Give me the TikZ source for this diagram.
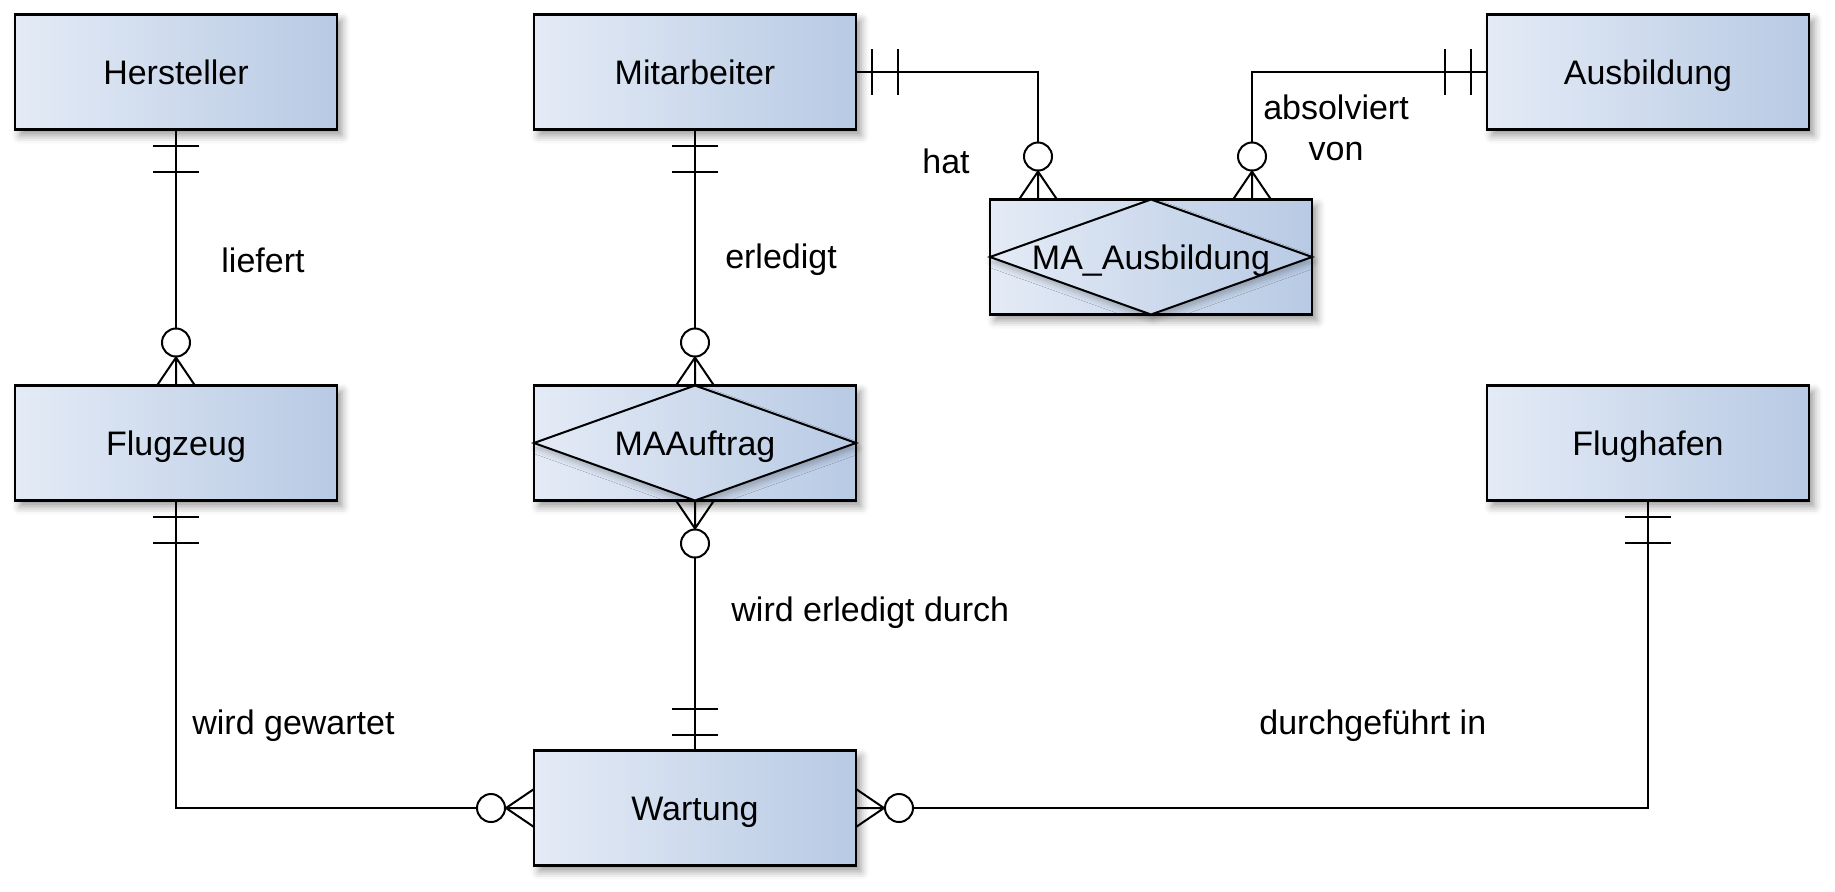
\documentclass[tikz,border=0pt]{standalone}
\usepackage{fontspec}
\setmainfont{Liberation Sans}
\usetikzlibrary{calc,shadows.blur}
\definecolor{boxL}{RGB}{228,235,246}
\definecolor{boxR}{RGB}{184,202,228}
\begin{document}
\begin{tikzpicture}[x=0.5pt,y=-0.5pt,
  ent/.style={draw=black, line width=1.25pt, left color=boxL, right color=boxR,
    minimum width=161pt, minimum height=57.5pt, inner sep=0pt, outer sep=0pt,
    font=\fontsize{17}{20}\selectfont, text height=12.2pt, text depth=0pt,
    blur shadow={shadow xshift=2.5pt, shadow yshift=-3pt, shadow blur radius=4pt, shadow opacity=40}},
  conn/.style={line width=1pt, black},
  lbl/.style={font=\fontsize{17}{20.5}\selectfont, inner sep=0pt},
  boxtxt/.style={lbl, text height=12.2pt, text depth=0pt},
  dia/.style={draw=black, line width=1pt, left color=boxL, right color=boxR,
    blur shadow={shadow xshift=1pt, shadow yshift=-2.5pt, shadow blur radius=3pt, shadow opacity=25}},
  bars/.pic={\draw[conn] (16,-23)--(16,23) (42,-23)--(42,23);},
  zmany/.pic={\draw[conn] (0,-19)--(28,0)--(0,19) (0,0)--(29,0);
              \draw[conn, fill=white] (43,0) circle[radius=14];}
]
\useasboundingbox (0,0) rectangle (1835,891);

% entities
\node[ent] (her) at (176,72) {Hersteller};
\node[ent] (mit) at (695,72) {Mitarbeiter};
\node[ent] (aus) at (1648,72) {Ausbildung};
\node[ent] (flz) at (176,443) {Flugzeug};
\node[ent] (flh) at (1648,443) {Flughafen};
\node[ent] (war) at (695,808) {Wartung};

% relationship boxes
\node[ent] (maa) at (695,443) {};
\path[dia] (maa.north) -- (maa.east) -- (maa.south) -- (maa.west) -- cycle;
\node[boxtxt] (maatxt) at (maa) {MAAuftrag};

\node[ent] (mab) at (1151,257) {};
\path[dia] (mab.north) -- (mab.east) -- (mab.south) -- (mab.west) -- cycle;
\node[boxtxt] (mabtxt) at (mab) {MA\_Ausbildung};

% connectors
\coordinate (mabL) at ($(mab.north west)+(48,0)$);
\coordinate (mabR) at ($(mab.north east)+(-60,0)$);
\draw[conn] (her.south) -- (flz.north);
\draw[conn] (mit.south) -- (maa.north);
\draw[conn] (maa.south) -- (war.north);
\draw[conn] (flz.south) |- (war.west);
\draw[conn] (flh.south) |- (war.east);
\draw[conn] (mit.east) -| (mabL);
\draw[conn] (aus.west) -| (mabR);

% markers: one and only one
\pic[rotate=-90] at (her.south) {bars};
\pic[rotate=-90] at (mit.south) {bars};
\pic at (mit.east) {bars};
\pic[rotate=180] at (aus.west) {bars};
\pic[rotate=-90] at (flz.south) {bars};
\pic[rotate=-90] at (flh.south) {bars};
\pic[rotate=90] at (war.north) {bars};
% markers: zero or many
\pic[rotate=90] at (flz.north) {zmany};
\pic[rotate=90] at (maa.north) {zmany};
\pic[rotate=-90] at (maa.south) {zmany};
\pic[rotate=90] at (mabL) {zmany};
\pic[rotate=90] at (mabR) {zmany};
\pic[rotate=180] at (war.west) {zmany};
\pic at (war.east) {zmany};

% labels
\node[lbl] (l1) at (263,260) {liefert};
\node[lbl] (l2) at (781,260) {erledigt};
\node[lbl] (l3) at (946,161) {hat};
\node[lbl, align=center] (l4) at (1336,128) {absolviert\\von};
\node[lbl, anchor=west] (l5) at (731,613) {wird erledigt durch};
\node[lbl, anchor=west] (l6) at (192,726) {wird gewartet};
\node[lbl, anchor=west] (l7) at (1259,726) {durchgeführt in};
\end{tikzpicture}
\end{document}
